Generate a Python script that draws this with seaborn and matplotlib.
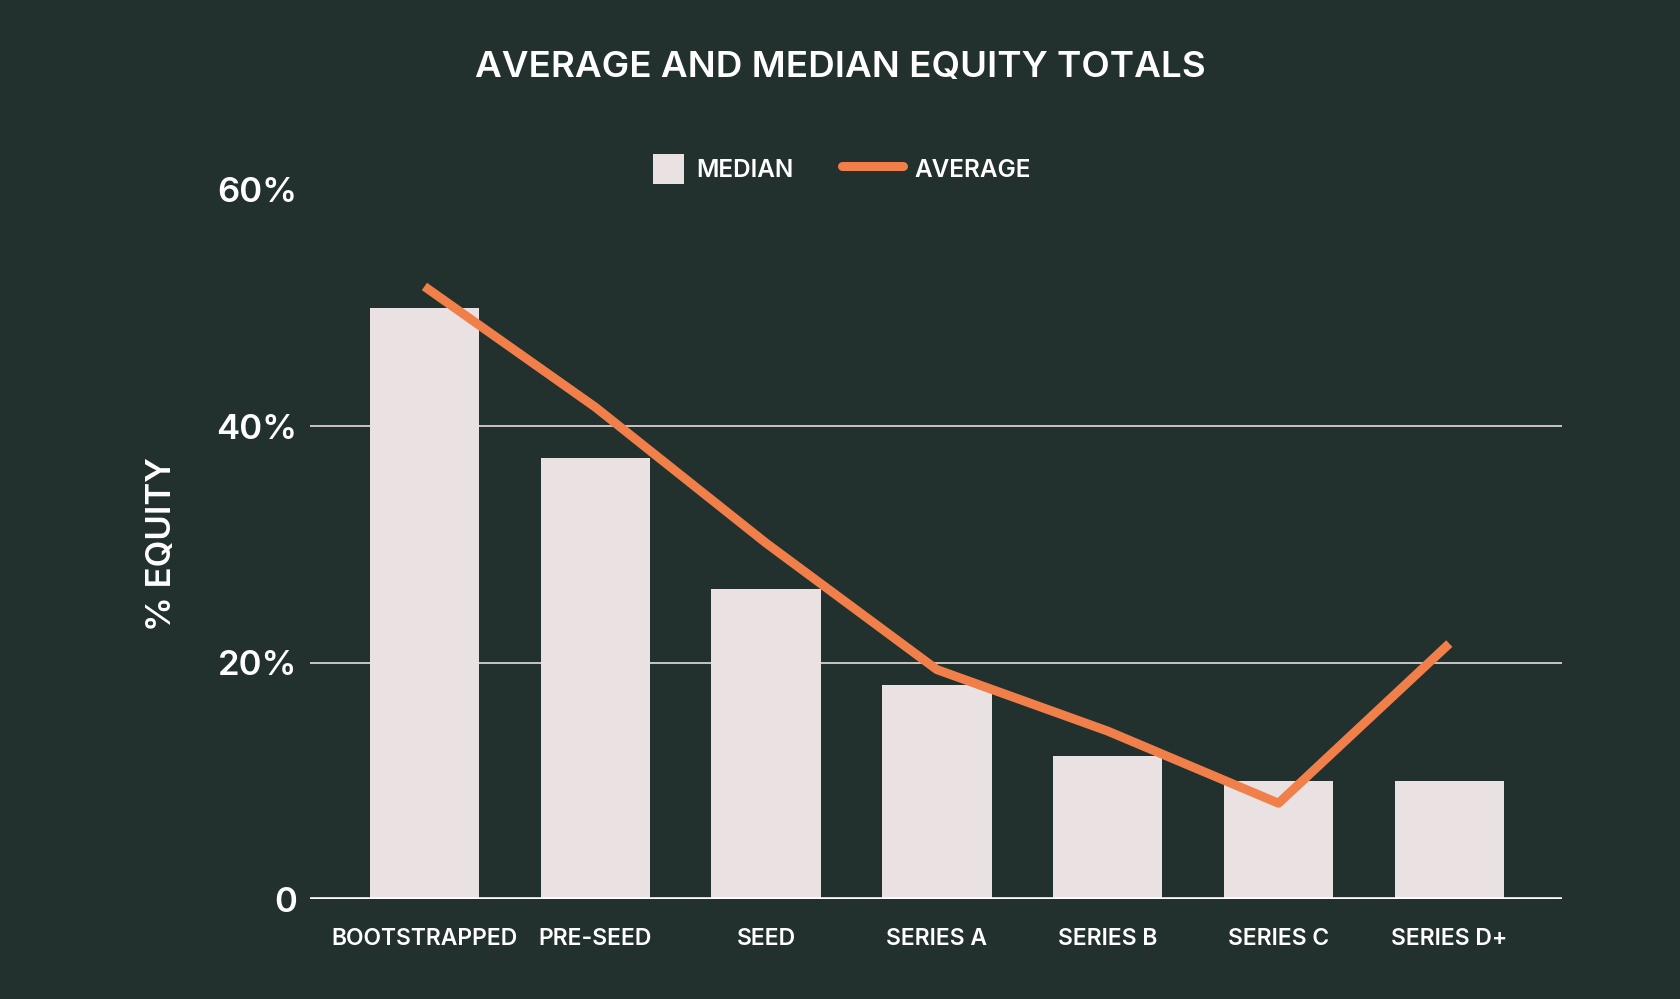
import numpy as np
import matplotlib
matplotlib.use("Agg")
import matplotlib.pyplot as plt
from matplotlib.patches import Patch, Rectangle
from matplotlib.lines import Line2D
from matplotlib.legend_handler import HandlerPatch
import seaborn as sns

# --- data ---
stages = ['BOOTSTRAPPED', 'PRE-SEED', 'SEED', 'SERIES A', 'SERIES B', 'SERIES C', 'SERIES D+']
median_equity = [50.0, 37.3, 26.2, 18.1, 12.1, 10.0, 10.0]
average_equity = [51.8, 41.6, 30.1, 19.4, 14.2, 8.1, 21.6]
y_ticks = [0, 20, 40, 60]
y_ticklabels = ['0', '20%', '40%', '60%']

BG = '#22302e'
BAR = '#eae2e2'
LINE = '#f07f4a'
TXT = '#ffffff'

sns.set_theme(style='white')
plt.rcParams['font.family'] = ['Inter', 'DejaVu Sans']

fig = plt.figure(figsize=(16.8, 9.99), dpi=100, facecolor=BG)
ax = fig.add_axes([0.1845, 0.1001, 0.7453, 0.7102])
ax.set_facecolor(BG)

sns.barplot(x=stages, y=median_equity, color=BAR, width=0.64,
            saturation=1, linewidth=0, ax=ax, zorder=2)
sns.lineplot(x=np.arange(len(stages)), y=average_equity, color=LINE,
             linewidth=6.5, sort=False, solid_capstyle='butt', ax=ax, zorder=3)

# grid lines (no line at 60%)
for v in [20, 40]:
    ax.axhline(v, color='#d6d0d0', linewidth=1.3, zorder=1)
ax.axhline(0, color='white', linewidth=2.6, zorder=4)

ax.set_xlim(-0.67, 6.66)
ax.set_ylim(0, 60)
ax.set_yticks(y_ticks)
ax.set_yticklabels(y_ticklabels, fontsize=25, fontweight='semibold', color=TXT)
ax.tick_params(axis='y', length=0, pad=9)
ax.tick_params(axis='x', length=0, pad=21, labelsize=16.5, labelcolor=TXT)
for lab in ax.get_xticklabels():
    lab.set_fontweight('semibold')
ax.set_xlabel('')
ax.set_ylabel('% EQUITY', fontsize=25, fontweight='semibold', color=TXT, labelpad=28)
for s in ax.spines.values():
    s.set_visible(False)

fig.text(0.5, 0.932, 'AVERAGE AND MEDIAN EQUITY TOTALS', ha='center', va='center',
         fontsize=26.5, fontweight='semibold', color=TXT)


def square_patch(legend, orig_handle, xdescent, ydescent, width, height, fontsize):
    s = 1.25 * fontsize
    return Rectangle((-xdescent + width - s, -ydescent + (height - s) / 2), s, s)


handles = [Patch(facecolor=BAR, edgecolor='none', label='MEDIAN'),
           Line2D([0], [0], color=LINE, linewidth=6.5, label='AVERAGE')]
leg = fig.legend(handles=handles, loc='center', bbox_to_anchor=(0.4923, 0.831), ncol=2,
                 frameon=False, fontsize=17.5, handlelength=2.5, handleheight=1.3,
                 handletextpad=0.5, columnspacing=2.0,
                 handler_map={Patch: HandlerPatch(patch_func=square_patch)})
for t in leg.get_texts():
    t.set_color(TXT)
    t.set_fontweight('semibold')

fig.savefig('out.png', dpi=100, facecolor=BG)
